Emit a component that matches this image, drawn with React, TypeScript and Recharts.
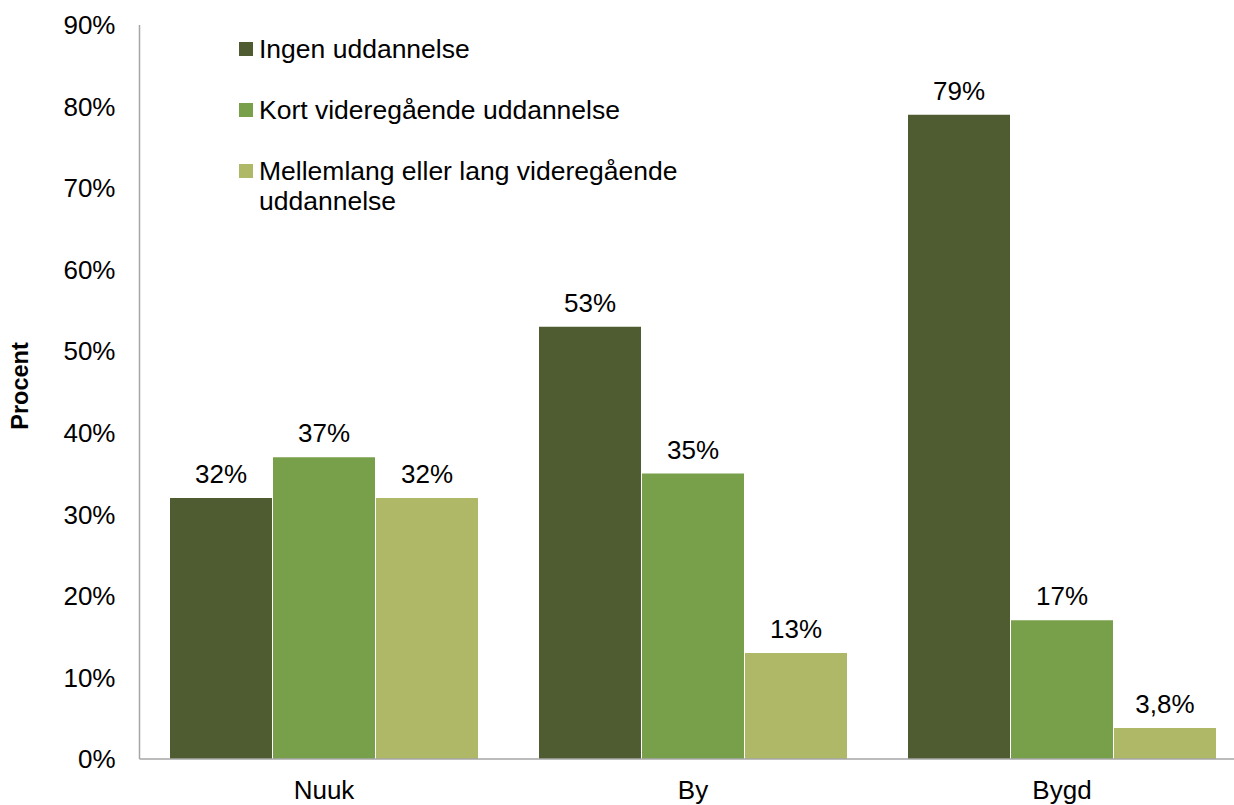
import { BarChart, Bar, XAxis, YAxis, Legend, LabelList } from 'recharts';

const categories = ['Nuuk', 'By', 'Bygd'];
const ingenUddannelse = [32, 53, 79];
const kortVideregaaende = [37, 35, 17];
const mellemlangLang = [32, 13, 3.8];
const yTicks = [0, 10, 20, 30, 40, 50, 60, 70, 80, 90];

const seriesNames = [
  'Ingen uddannelse',
  'Kort videregående uddannelse',
  'Mellemlang eller lang videregående uddannelse',
];
const seriesColors = ['#4F5B31', '#789F4A', '#AFB866'];

const FONT = '"Liberation Sans", Arial, sans-serif';

const data = categories.map((name, i) => ({
  name,
  ingen: ingenUddannelse[i],
  kort: kortVideregaaende[i],
  mellem: mellemlangLang[i],
}));

const fmtPct = (v: any) => String(v).replace('.', ',') + '%';

const renderLegend = () => (
  <div style={{ fontFamily: FONT, fontSize: 26.5, color: '#000' }}>
    {seriesNames.map((name, i) => (
      <div key={name} style={{ display: 'flex', alignItems: 'flex-start', marginBottom: 31 }}>
        <div
          style={{
            width: 14,
            height: 14,
            marginTop: 8,
            marginRight: 6,
            background: seriesColors[i],
            flexShrink: 0,
          }}
        />
        <div style={{ lineHeight: '30px', width: 450 }}>{name}</div>
      </div>
    ))}
  </div>
);

// rotated axis title
const YTitle = (props: any) => {
  const vb = props.viewBox || { x: 0, y: 0, width: 0, height: 0 };
  const x = vb.x + 20;
  const y = vb.y + vb.height / 2 - 6;
  return (
    <text
      x={x}
      y={y}
      transform={`rotate(-90, ${x}, ${y})`}
      textAnchor="middle"
      dominantBaseline="central"
      fontFamily={FONT}
      fontSize={23.5}
      fontWeight="bold"
      fill="#000"
    >
      Procent
    </text>
  );
};

export default function App() {
  const tickStyle = { fontFamily: FONT, fontSize: 26, fill: '#000' };
  const labelStyle = { fontFamily: FONT, fontSize: 26, fill: '#000' };
  return (
    <div
      style={{
        position: 'absolute',
        left: 0,
        top: 0,
        width: 1234,
        height: 805,
        overflow: 'hidden',
        background: '#fff',
      }}
    >
      <BarChart
        width={1250}
        height={805}
        data={data}
        margin={{ top: 25, right: 3.5, bottom: 0, left: 0 }}
        barCategoryGap={30.5}
        barGap={1}
      >
        <XAxis
          dataKey="name"
          height={46}
          tickLine={false}
          tickSize={0}
          tickMargin={22}
          axisLine={{ stroke: '#A6A6A6', strokeWidth: 1.5 }}
          tick={tickStyle}
        />
        <YAxis
          width={139.5}
          domain={[0, 90]}
          ticks={yTicks}
          interval={0}
          tickLine={false}
          tickSize={0}
          tickMargin={24}
          axisLine={{ stroke: '#A6A6A6', strokeWidth: 1.5 }}
          tick={tickStyle}
          tickFormatter={(v) => `${v}%`}
          label={<YTitle />}
        />
        <Legend
          layout="vertical"
          align="center"
          verticalAlign="middle"
          content={renderLegend}
          wrapperStyle={{ left: 239, top: 34, width: 520 }}
        />
        <Bar dataKey="ingen" name={seriesNames[0]} fill={seriesColors[0]} isAnimationActive={false}>
          <LabelList dataKey="ingen" position="top" offset={15} formatter={fmtPct} style={labelStyle} />
        </Bar>
        <Bar dataKey="kort" name={seriesNames[1]} fill={seriesColors[1]} isAnimationActive={false}>
          <LabelList dataKey="kort" position="top" offset={15} formatter={fmtPct} style={labelStyle} />
        </Bar>
        <Bar dataKey="mellem" name={seriesNames[2]} fill={seriesColors[2]} isAnimationActive={false}>
          <LabelList dataKey="mellem" position="top" offset={15} formatter={fmtPct} style={labelStyle} />
        </Bar>
      </BarChart>
    </div>
  );
}
